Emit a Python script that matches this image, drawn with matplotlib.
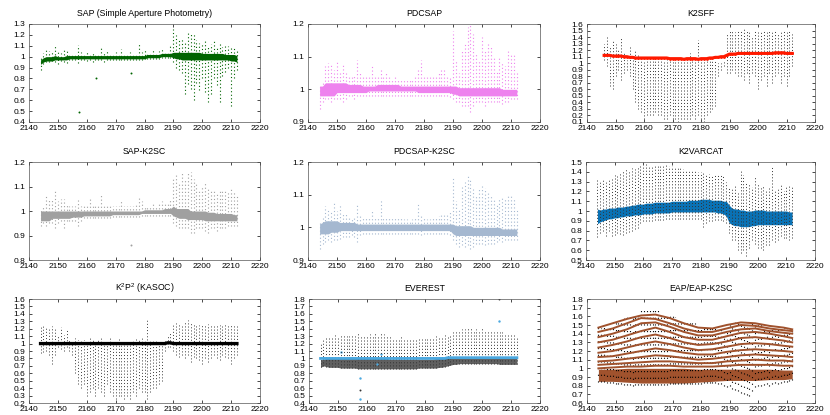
''' K2 light curves: nine reductions of the same target '''
import numpy as np
import matplotlib
matplotlib.use('Agg')
import matplotlib.pyplot as plt
from matplotlib.ticker import FuncFormatter

plt.rcParams['font.family'] = ['Liberation Sans', 'DejaVu Sans']
plt.rcParams['mathtext.default'] = 'regular'

days = list(range(2144, 2213))
k2sff_days = days[2:]

# SAP
sap_lo = [0.93, 0.95, 0.96, 0.96, 0.96, 0.97, 0.97, 0.97, 0.97, 0.97,
          0.98, 0.98, 0.98, 0.98, 0.98, 0.98, 0.98, 0.98, 0.98, 0.98,
          0.98, 0.98, 0.98, 0.98, 0.98, 0.98, 0.98, 0.98, 0.98, 0.98,
          0.98, 0.98, 0.98, 0.98, 0.98, 0.98, 0.98, 0.99, 0.99, 0.99,
          0.99, 0.99, 1.00, 1.00, 1.00, 1.00, 0.99, 0.98, 0.98, 0.97,
          0.97, 0.97, 0.97, 0.97, 0.97, 0.97, 0.97, 0.97, 0.97, 0.97,
          0.97, 0.97, 0.97, 0.97, 0.97, 0.97, 0.96, 0.96, 0.95]
sap_hi = [0.97, 0.99, 1.00, 1.00, 1.00, 1.01, 1.00, 1.00, 1.00, 1.01,
          1.01, 1.01, 1.01, 1.01, 1.01, 1.01, 1.01, 1.01, 1.01, 1.01,
          1.01, 1.01, 1.01, 1.01, 1.01, 1.01, 1.01, 1.01, 1.01, 1.01,
          1.01, 1.01, 1.01, 1.01, 1.01, 1.01, 1.01, 1.02, 1.02, 1.02,
          1.02, 1.02, 1.03, 1.03, 1.03, 1.03, 1.04, 1.04, 1.04, 1.04,
          1.04, 1.04, 1.04, 1.04, 1.04, 1.04, 1.03, 1.03, 1.03, 1.03,
          1.03, 1.03, 1.03, 1.03, 1.02, 1.02, 1.02, 1.02, 1.01]
sap_min = [0.88, 0.93, 0.95, 0.95, 0.96, 0.95, 0.93, 0.96, 0.95, 0.94,
           0.97, 0.97, 0.97, 0.94, 0.97, 0.97, 0.96, 0.97, 0.95, 0.97,
           0.97, 0.97, 0.95, 0.97, 0.97, 0.97, 0.97, 0.97, 0.97, 0.97,
           0.97, 0.97, 0.97, 0.97, 0.97, 0.97, 0.98, 0.98, 0.98, 0.98,
           0.98, 0.98, 0.99, 0.99, 0.99, 0.99, 0.95, 0.90, 0.88, 0.85,
           0.66, 0.75, 0.70, 0.60, 0.76, 0.69, 0.80, 0.68, 0.58, 0.66,
           0.80, 0.74, 0.58, 0.82, 0.86, 0.90, 0.55, 0.80, 0.88]
sap_max = [0.99, 1.03, 1.06, 1.05, 1.04, 1.11, 1.06, 1.03, 1.07, 1.05,
           1.03, 1.03, 1.03, 1.11, 1.04, 1.03, 1.05, 1.03, 1.04, 1.03,
           1.03, 1.08, 1.04, 1.05, 1.03, 1.03, 1.04, 1.03, 1.07, 1.03,
           1.03, 1.04, 1.03, 1.03, 1.13, 1.04, 1.06, 1.04, 1.04, 1.06,
           1.04, 1.05, 1.07, 1.05, 1.05, 1.10, 1.25, 1.20, 1.15, 1.17,
           1.14, 1.23, 1.22, 1.21, 1.15, 1.13, 1.12, 1.14, 1.10, 1.12,
           1.14, 1.10, 1.12, 1.09, 1.11, 1.10, 1.08, 1.09, 1.07]
sap_out_t = [2157.3, 2163.2, 2175.3]
sap_out_y = [0.49, 0.80, 0.85]

# PDCSAP
pdc_lo = [0.98, 0.98, 0.98, 0.98, 0.98, 0.98, 0.99, 0.99, 0.99, 0.99,
          0.99, 0.99, 0.99, 0.99, 0.99, 0.99, 0.99, 0.995, 0.995, 0.995,
          0.995, 0.995, 0.995, 0.995, 0.995, 0.995, 0.995, 0.995, 0.995, 0.995,
          0.995, 0.995, 0.995, 0.995, 0.99, 0.99, 0.99, 0.99, 0.99, 0.99,
          0.99, 0.99, 0.99, 0.99, 0.99, 0.99, 0.985, 0.985, 0.98, 0.98,
          0.98, 0.98, 0.98, 0.98, 0.98, 0.98, 0.98, 0.98, 0.98, 0.98,
          0.98, 0.98, 0.98, 0.98, 0.98, 0.98, 0.98, 0.98, 0.98]
pdc_hi = [1.01, 1.01, 1.02, 1.02, 1.02, 1.02, 1.02, 1.02, 1.02, 1.02,
          1.015, 1.015, 1.015, 1.015, 1.015, 1.01, 1.01, 1.01, 1.01, 1.01,
          1.015, 1.015, 1.015, 1.015, 1.015, 1.015, 1.015, 1.015, 1.01, 1.01,
          1.01, 1.01, 1.01, 1.01, 1.01, 1.01, 1.01, 1.01, 1.01, 1.01,
          1.01, 1.01, 1.01, 1.01, 1.01, 1.01, 1.01, 1.01, 1.005, 1.005,
          1.005, 1.005, 1.005, 1.005, 1.005, 1.005, 1.005, 1.005, 1.005, 1.005,
          1.005, 1.005, 1.005, 1.0, 1.0, 1.0, 1.0, 1.0, 1.0]
pdc_min = [0.94, 0.96, 0.97, 0.97, 0.96, 0.97, 0.97, 0.97, 0.96, 0.97,
           0.98, 0.98, 0.97, 0.98, 0.98, 0.98, 0.98, 0.98, 0.98, 0.98,
           0.98, 0.98, 0.98, 0.98, 0.98, 0.98, 0.98, 0.98, 0.98, 0.98,
           0.98, 0.98, 0.98, 0.98, 0.98, 0.98, 0.98, 0.98, 0.98, 0.98,
           0.98, 0.98, 0.98, 0.98, 0.98, 0.975, 0.97, 0.96, 0.96, 0.95,
           0.95, 0.95, 0.93, 0.95, 0.96, 0.96, 0.96, 0.95, 0.96, 0.96,
           0.96, 0.96, 0.96, 0.955, 0.96, 0.96, 0.97, 0.97, 0.97]
pdc_max = [1.01, 1.02, 1.07, 1.08, 1.08, 1.06, 1.09, 1.05, 1.08, 1.05,
           1.04, 1.04, 1.04, 1.09, 1.05, 1.04, 1.04, 1.04, 1.07, 1.04,
           1.04, 1.06, 1.04, 1.05, 1.04, 1.03, 1.04, 1.03, 1.03, 1.03,
           1.03, 1.03, 1.03, 1.04, 1.06, 1.09, 1.04, 1.04, 1.04, 1.04,
           1.04, 1.05, 1.06, 1.06, 1.04, 1.04, 1.18, 1.09, 1.05, 1.12,
           1.14, 1.19, 1.20, 1.17, 1.11, 1.09, 1.16, 1.12, 1.14, 1.13,
           1.10, 1.06, 1.10, 1.08, 1.07, 1.12, 1.11, 1.11, 1.05]

# K2SFF (starts 2146)
k2sff_red = [1.12, 1.12, 1.12, 1.11, 1.11, 1.11, 1.11, 1.10,
             1.10, 1.09, 1.09, 1.08, 1.08, 1.08, 1.08, 1.08, 1.08, 1.08,
             1.08, 1.08, 1.08, 1.08, 1.08, 1.07, 1.07, 1.07, 1.07, 1.07,
             1.06, 1.07, 1.07, 1.07, 1.07, 1.06, 1.07, 1.07, 1.07, 1.08,
             1.08, 1.09, 1.09, 1.10, 1.10, 1.12, 1.14, 1.14, 1.14, 1.15,
             1.15, 1.15, 1.15, 1.15, 1.15, 1.15, 1.15, 1.15, 1.15, 1.15,
             1.15, 1.15, 1.16, 1.16, 1.16, 1.16, 1.15, 1.15, 1.15]
k2sff_min = [1.05, 0.95, 0.65, 0.60, 0.80, 0.90, 0.75, 0.85,
             0.90, 0.80, 0.60, 0.40, 0.30, 0.25, 0.15, 0.20, 0.20, 0.20,
             0.25, 0.20, 0.20, 0.15, 0.15, 0.20, 0.10, 0.15, 0.10, 0.15,
             0.15, 0.15, 0.15, 0.20, 0.15, 0.20, 0.15, 0.10, 0.20, 0.25,
             0.30, 0.35, 0.80, 0.90, 0.95, 0.85, 0.85, 0.90, 0.85, 0.80,
             0.80, 0.75, 0.85, 0.70, 0.85, 0.80, 0.60, 0.75, 0.80, 0.65,
             0.85, 0.70, 0.80, 0.85, 0.70, 0.80, 0.65, 0.80, 0.95]
k2sff_max = [1.30, 1.40, 1.25, 1.35, 1.30, 1.20, 1.40, 1.15,
             1.05, 1.25, 1.05, 1.20, 1.15, 1.05, 1.05, 1.05, 1.10, 1.05,
             1.10, 1.10, 1.05, 1.05, 1.10, 1.05, 1.05, 1.05, 1.10, 1.05,
             1.05, 1.10, 1.15, 1.10, 1.05, 1.35, 1.10, 1.05, 1.05, 1.05,
             1.05, 1.05, 1.00, 1.00, 1.05, 1.45, 1.50, 1.50, 1.48, 1.50,
             1.50, 1.52, 1.50, 1.48, 1.42, 1.50, 1.50, 1.48, 1.50, 1.48,
             1.50, 1.48, 1.50, 1.45, 1.50, 1.50, 1.48, 1.50, 1.45]

# SAP-K2SC
ssc_lo = [0.96, 0.96, 0.96, 0.96, 0.97, 0.97, 0.97, 0.97, 0.97, 0.97,
          0.97, 0.975, 0.975, 0.975, 0.975, 0.98, 0.98, 0.98, 0.98, 0.98,
          0.98, 0.98, 0.98, 0.98, 0.98, 0.985, 0.985, 0.985, 0.985, 0.985,
          0.985, 0.985, 0.985, 0.985, 0.985, 0.99, 0.99, 0.99, 0.99, 0.99,
          0.99, 0.99, 0.99, 0.99, 0.99, 0.99, 0.98, 0.975, 0.97, 0.97,
          0.97, 0.965, 0.965, 0.965, 0.965, 0.965, 0.965, 0.96, 0.96, 0.96,
          0.96, 0.96, 0.96, 0.96, 0.96, 0.96, 0.96, 0.96, 0.96]
ssc_hi = [1.00, 1.00, 1.00, 1.00, 1.00, 1.00, 1.00, 1.00, 1.00, 1.00,
          1.00, 1.00, 1.00, 1.00, 1.00, 1.00, 1.00, 1.00, 1.00, 1.00,
          1.00, 1.00, 1.00, 1.00, 1.00, 1.00, 1.00, 1.00, 1.00, 1.00,
          1.00, 1.00, 1.00, 1.00, 1.00, 1.00, 1.005, 1.005, 1.005, 1.005,
          1.005, 1.005, 1.005, 1.01, 1.01, 1.01, 1.02, 1.01, 1.01, 1.01,
          1.01, 1.01, 1.00, 1.00, 1.00, 1.00, 1.00, 1.00, 0.995, 0.995,
          0.995, 0.99, 0.99, 0.99, 0.99, 0.99, 0.99, 0.985, 0.985]
ssc_min = [0.94, 0.95, 0.94, 0.95, 0.95, 0.93, 0.95, 0.96, 0.93, 0.96,
           0.96, 0.96, 0.96, 0.94, 0.96, 0.97, 0.97, 0.97, 0.97, 0.97,
           0.97, 0.97, 0.97, 0.97, 0.97, 0.975, 0.975, 0.975, 0.975, 0.975,
           0.975, 0.975, 0.975, 0.975, 0.975, 0.98, 0.98, 0.98, 0.98, 0.98,
           0.98, 0.98, 0.98, 0.98, 0.98, 0.98, 0.95, 0.94, 0.93, 0.93,
           0.93, 0.93, 0.91, 0.91, 0.93, 0.93, 0.93, 0.92, 0.91, 0.93,
           0.93, 0.92, 0.93, 0.93, 0.93, 0.94, 0.94, 0.94, 0.94]
ssc_max = [1.01, 1.02, 1.06, 1.05, 1.05, 1.09, 1.04, 1.05, 1.05, 1.03,
           1.02, 1.02, 1.02, 1.05, 1.02, 1.02, 1.02, 1.05, 1.02, 1.02,
           1.02, 1.07, 1.03, 1.03, 1.02, 1.02, 1.02, 1.02, 1.04, 1.02,
           1.02, 1.02, 1.02, 1.03, 1.06, 1.04, 1.02, 1.02, 1.02, 1.03,
           1.02, 1.03, 1.04, 1.03, 1.03, 1.05, 1.14, 1.15, 1.12, 1.16,
           1.13, 1.16, 1.16, 1.13, 1.12, 1.08, 1.10, 1.12, 1.10, 1.09,
           1.09, 1.07, 1.08, 1.09, 1.09, 1.08, 1.09, 1.08, 1.06]
ssc_out_t = [2175.3]
ssc_out_y = [0.86]

# PDCSAP-K2SC
psc_lo = [0.98, 0.98, 0.98, 0.98, 0.985, 0.985, 0.985, 0.99, 0.99, 0.99,
          0.99, 0.99, 0.99, 0.99, 0.99, 0.99, 0.99, 0.99, 0.99, 0.99,
          0.99, 0.99, 0.99, 0.99, 0.99, 0.99, 0.99, 0.99, 0.99, 0.99,
          0.99, 0.99, 0.99, 0.99, 0.99, 0.99, 0.99, 0.99, 0.99, 0.99,
          0.99, 0.99, 0.99, 0.99, 0.99, 0.99, 0.98, 0.975, 0.975, 0.975,
          0.975, 0.975, 0.975, 0.975, 0.975, 0.975, 0.975, 0.975, 0.975, 0.975,
          0.975, 0.975, 0.975, 0.975, 0.975, 0.975, 0.975, 0.975, 0.975]
psc_hi = [1.01, 1.015, 1.02, 1.02, 1.02, 1.02, 1.02, 1.015, 1.015, 1.015,
          1.015, 1.015, 1.015, 1.01, 1.01, 1.01, 1.01, 1.01, 1.01, 1.01,
          1.01, 1.01, 1.01, 1.01, 1.01, 1.01, 1.01, 1.01, 1.01, 1.01,
          1.01, 1.01, 1.01, 1.01, 1.01, 1.01, 1.01, 1.01, 1.01, 1.01,
          1.01, 1.01, 1.01, 1.01, 1.01, 1.01, 1.01, 1.005, 1.005, 1.005,
          1.005, 1.005, 1.005, 1.0, 1.0, 1.0, 1.0, 1.0, 1.0, 1.0,
          1.0, 1.0, 1.0, 0.995, 0.995, 0.995, 0.995, 0.995, 0.995]
psc_min = [0.935, 0.95, 0.955, 0.96, 0.955, 0.96, 0.96, 0.965, 0.97, 0.97,
           0.97, 0.975, 0.97, 0.955, 0.975, 0.98, 0.98, 0.98, 0.98, 0.98,
           0.98, 0.98, 0.98, 0.98, 0.98, 0.98, 0.98, 0.98, 0.98, 0.98,
           0.98, 0.98, 0.98, 0.98, 0.98, 0.975, 0.98, 0.98, 0.98, 0.98,
           0.98, 0.98, 0.98, 0.98, 0.98, 0.975, 0.96, 0.95, 0.94, 0.945,
           0.94, 0.945, 0.935, 0.94, 0.95, 0.95, 0.95, 0.945, 0.95, 0.95,
           0.95, 0.955, 0.96, 0.955, 0.96, 0.96, 0.96, 0.96, 0.96]
psc_max = [1.02, 1.03, 1.065, 1.06, 1.05, 1.075, 1.05, 1.07, 1.04, 1.04,
           1.03, 1.03, 1.03, 1.075, 1.04, 1.03, 1.03, 1.03, 1.05, 1.03,
           1.03, 1.085, 1.03, 1.03, 1.03, 1.03, 1.03, 1.03, 1.03, 1.025,
           1.025, 1.02, 1.025, 1.03, 1.07, 1.04, 1.03, 1.025, 1.025, 1.03,
           1.03, 1.035, 1.04, 1.045, 1.04, 1.05, 1.155, 1.08, 1.06, 1.13,
           1.14, 1.16, 1.15, 1.12, 1.10, 1.12, 1.13, 1.12, 1.11, 1.10,
           1.09, 1.07, 1.09, 1.09, 1.09, 1.10, 1.10, 1.09, 1.06]

# K2VARCAT
vc_lo = [0.87, 0.89, 0.90, 0.91, 0.92, 0.92, 0.93, 0.93, 0.94, 0.94,
         0.95, 0.95, 0.95, 0.96, 0.96, 0.96, 0.97, 0.97, 0.97, 0.97,
         0.98, 0.98, 0.98, 0.98, 0.98, 0.98, 0.99, 0.99, 0.99, 0.99,
         0.99, 0.99, 0.99, 0.99, 0.99, 0.99, 0.99, 0.99, 0.99, 0.99,
         0.99, 0.99, 0.98, 0.98, 0.97, 0.95, 0.88, 0.86, 0.85, 0.85,
         0.84, 0.84, 0.84, 0.84, 0.85, 0.85, 0.86, 0.86, 0.86, 0.86,
         0.86, 0.86, 0.86, 0.86, 0.86, 0.86, 0.86, 0.86, 0.86]
vc_hi = [1.02, 1.01, 1.02, 1.02, 1.03, 1.03, 1.03, 1.04, 1.04, 1.04,
         1.05, 1.05, 1.06, 1.06, 1.07, 1.07, 1.07, 1.08, 1.08, 1.08,
         1.09, 1.09, 1.09, 1.09, 1.09, 1.09, 1.10, 1.10, 1.10, 1.10,
         1.10, 1.10, 1.11, 1.11, 1.11, 1.11, 1.12, 1.12, 1.12, 1.12,
         1.11, 1.11, 1.11, 1.11, 1.10, 1.10, 1.06, 1.03, 1.02, 1.02,
         1.01, 1.01, 1.00, 1.00, 1.00, 1.01, 1.01, 1.01, 1.01, 1.00,
         1.00, 1.00, 1.00, 1.00, 1.00, 1.00, 1.00, 0.99, 0.99]
vc_min = [0.73, 0.78, 0.80, 0.74, 0.80, 0.74, 0.76, 0.78, 0.77, 0.76,
          0.78, 0.79, 0.80, 0.82, 0.83, 0.88, 0.90, 0.90, 0.90, 0.90,
          0.91, 0.91, 0.91, 0.91, 0.92, 0.92, 0.92, 0.92, 0.92, 0.92,
          0.92, 0.92, 0.92, 0.92, 0.92, 0.92, 0.92, 0.84, 0.88, 0.90,
          0.90, 0.91, 0.91, 0.91, 0.90, 0.88, 0.78, 0.70, 0.70, 0.60,
          0.57, 0.60, 0.54, 0.62, 0.70, 0.66, 0.62, 0.62, 0.60, 0.65,
          0.65, 0.70, 0.68, 0.70, 0.75, 0.72, 0.72, 0.70, 0.72]
vc_max = [1.33, 1.30, 1.32, 1.30, 1.32, 1.35, 1.37, 1.38, 1.40, 1.42,
          1.43, 1.42, 1.44, 1.43, 1.45, 1.46, 1.47, 1.48, 1.47, 1.47,
          1.47, 1.48, 1.48, 1.48, 1.47, 1.46, 1.46, 1.45, 1.45, 1.44,
          1.43, 1.42, 1.42, 1.41, 1.42, 1.40, 1.40, 1.39, 1.38, 1.38,
          1.37, 1.37, 1.38, 1.37, 1.36, 1.30, 1.25, 1.22, 1.28, 1.20,
          1.42, 1.37, 1.30, 1.28, 1.25, 1.35, 1.28, 1.25, 1.27, 1.22,
          1.26, 1.46, 1.20, 1.22, 1.28, 1.20, 1.24, 1.28, 1.25]

# K2P2 (KASOC)
kp_line = [1.00, 1.00, 1.00, 1.00, 1.00, 1.00, 1.00, 1.00, 1.00, 1.00,
           1.00, 1.00, 1.00, 1.00, 1.00, 1.00, 1.00, 1.00, 1.00, 1.00,
           1.00, 1.00, 1.00, 1.00, 1.00, 1.00, 1.00, 1.00, 1.00, 1.00,
           1.00, 1.00, 1.00, 1.00, 1.00, 1.00, 1.00, 1.00, 1.00, 1.00,
           1.00, 1.00, 1.00, 1.00, 1.01, 1.01, 1.00, 1.00, 1.00, 1.00,
           1.00, 1.00, 1.00, 1.00, 1.00, 1.00, 1.00, 1.00, 1.00, 1.00,
           1.00, 1.00, 1.00, 1.00, 1.00, 1.00, 1.00, 1.00, 1.00]
kp_min = [0.87, 0.88, 0.90, 0.85, 0.72, 0.85, 0.95, 0.93, 0.90, 0.95,
          0.90, 0.85, 0.60, 0.45, 0.40, 0.45, 0.30, 0.35, 0.40, 0.30,
          0.40, 0.35, 0.30, 0.45, 0.35, 0.30, 0.25, 0.30, 0.30, 0.25,
          0.30, 0.25, 0.35, 0.30, 0.40, 0.35, 0.35, 0.25, 0.35, 0.40,
          0.40, 0.45, 0.50, 0.90, 0.95, 0.95, 0.90, 0.85, 0.82, 0.85,
          0.80, 0.85, 0.75, 0.82, 0.80, 0.78, 0.72, 0.80, 0.75, 0.80,
          0.85, 0.80, 0.78, 0.85, 0.82, 0.80, 0.72, 0.80, 0.85]
kp_max = [1.22, 1.24, 1.22, 1.20, 1.23, 1.20, 1.10, 1.22, 1.12, 1.18,
          1.05, 1.05, 1.08, 1.05, 1.04, 1.05, 1.05, 1.08, 1.05, 1.05,
          1.05, 1.08, 1.05, 1.04, 1.07, 1.05, 1.04, 1.06, 1.05, 1.05,
          1.05, 1.04, 1.05, 1.06, 1.05, 1.10, 1.05, 1.33, 1.05, 1.03,
          1.04, 1.03, 1.02, 1.03, 1.10, 1.15, 1.27, 1.28, 1.28, 1.27,
          1.30, 1.32, 1.28, 1.27, 1.26, 1.25, 1.27, 1.27, 1.26, 1.27,
          1.27, 1.26, 1.25, 1.27, 1.26, 1.27, 1.26, 1.27, 1.26]

# EVEREST
ev_blue = [1.00, 1.00, 1.00, 1.00, 1.00, 1.00, 1.00, 1.00, 1.00, 1.00,
           1.00, 1.00, 1.00, 1.00, 1.00, 1.00, 1.00, 1.00, 1.00, 1.00,
           1.00, 1.00, 1.00, 1.00, 1.00, 1.00, 1.00, 1.00, 1.00, 1.00,
           1.00, 1.00, 1.00, 1.00, 1.00, 1.00, 1.00, 1.00, 1.00, 1.00,
           1.00, 1.00, 1.00, 1.00, 1.01, 1.01, 1.01, 1.01, 1.01, 1.01,
           1.01, 1.01, 1.01, 1.01, 1.01, 1.01, 1.01, 1.01, 1.01, 1.01,
           1.01, 1.01, 1.01, 1.01, 1.01, 1.01, 1.01, 1.01, 1.01]
ev_lo = [0.88, 0.90, 0.89, 0.88, 0.88, 0.88, 0.88, 0.87, 0.87, 0.87,
         0.87, 0.87, 0.87, 0.86, 0.86, 0.86, 0.86, 0.86, 0.86, 0.86,
         0.86, 0.86, 0.86, 0.86, 0.86, 0.86, 0.86, 0.86, 0.86, 0.86,
         0.86, 0.86, 0.86, 0.86, 0.87, 0.87, 0.87, 0.87, 0.87, 0.87,
         0.87, 0.88, 0.88, 0.89, 0.90, 0.91, 0.92, 0.92, 0.93, 0.93,
         0.93, 0.93, 0.93, 0.93, 0.93, 0.93, 0.93, 0.93, 0.93, 0.93,
         0.93, 0.93, 0.92, 0.92, 0.92, 0.92, 0.92, 0.92, 0.92]
ev_mid = [0.98, 0.99, 1.00, 1.00, 1.00, 1.00, 1.00, 1.00, 1.00, 1.00,
          1.00, 1.00, 1.00, 1.00, 1.00, 1.00, 1.00, 1.00, 1.00, 1.00,
          1.00, 1.00, 1.00, 1.00, 0.99, 0.99, 0.99, 0.99, 0.99, 0.99,
          0.99, 0.99, 0.99, 0.99, 0.99, 0.99, 0.99, 0.99, 0.99, 0.99,
          1.00, 1.00, 1.00, 1.00, 1.00, 1.00, 1.01, 1.01, 1.01, 1.02,
          1.02, 1.02, 1.02, 1.02, 1.02, 1.02, 1.02, 1.02, 1.02, 1.02,
          1.02, 1.02, 1.02, 1.02, 1.02, 1.02, 1.01, 1.01, 1.01]
ev_max = [1.20, 1.25, 1.27, 1.30, 1.30, 1.32, 1.30, 1.31, 1.32, 1.30,
          1.30, 1.32, 1.30, 1.35, 1.30, 1.32, 1.31, 1.33, 1.30, 1.36,
          1.32, 1.36, 1.33, 1.32, 1.30, 1.28, 1.28, 1.28, 1.30, 1.27,
          1.28, 1.27, 1.27, 1.26, 1.26, 1.26, 1.27, 1.26, 1.28, 1.29,
          1.30, 1.30, 1.30, 1.31, 1.32, 1.33, 1.35, 1.37, 1.38, 1.40,
          1.40, 1.42, 1.41, 1.38, 1.40, 1.38, 1.41, 1.38, 1.38, 1.37,
          1.36, 1.38, 1.35, 1.35, 1.33, 1.33, 1.32, 1.32, 1.30]
ev_out_t = [2157.8, 2205.8]
ev_out_y = [0.57, 1.80]
ev_blue_out_t = [2157.8, 2157.8, 2205.8, 2151.0, 2163.5, 2165.0]
ev_blue_out_y = [0.74, 0.46, 1.50, 1.08, 0.93, 1.06]

# EAP / EAP-K2SC
eap_days = [2144, 2149, 2154, 2159, 2164, 2169, 2174, 2179,
            2184, 2189, 2194, 2199, 2204, 2209, 2212]
eap_tracks = [
    [1.47, 1.52, 1.57, 1.61, 1.62, 1.58, 1.52, 1.47, 1.46, 1.50, 1.53, 1.52, 1.49, 1.47, 1.45],
    [1.42, 1.46, 1.52, 1.58, 1.57, 1.52, 1.46, 1.42, 1.42, 1.46, 1.50, 1.49, 1.46, 1.44, 1.43],
    [1.36, 1.40, 1.45, 1.52, 1.53, 1.48, 1.42, 1.38, 1.38, 1.42, 1.45, 1.46, 1.43, 1.41, 1.40],
    [1.30, 1.33, 1.38, 1.43, 1.47, 1.42, 1.36, 1.33, 1.33, 1.37, 1.41, 1.42, 1.40, 1.37, 1.35],
    [1.24, 1.27, 1.31, 1.36, 1.39, 1.35, 1.30, 1.27, 1.28, 1.31, 1.35, 1.36, 1.34, 1.32, 1.30],
    [1.18, 1.20, 1.24, 1.28, 1.31, 1.28, 1.24, 1.21, 1.22, 1.25, 1.28, 1.29, 1.28, 1.26, 1.25],
    [1.13, 1.14, 1.17, 1.20, 1.23, 1.21, 1.18, 1.16, 1.16, 1.19, 1.21, 1.22, 1.21, 1.20, 1.19],
    [1.08, 1.09, 1.11, 1.13, 1.15, 1.14, 1.12, 1.10, 1.11, 1.13, 1.15, 1.16, 1.15, 1.14, 1.13],
    [1.04, 1.05, 1.06, 1.07, 1.08, 1.08, 1.07, 1.06, 1.06, 1.08, 1.09, 1.10, 1.09, 1.09, 1.08],
    [1.00, 1.01, 1.02, 1.02, 1.03, 1.03, 1.02, 1.02, 1.02, 1.03, 1.04, 1.04, 1.04, 1.03, 1.03],
]
eap_lo = [0.85, 0.85, 0.84, 0.83, 0.83, 0.83, 0.83, 0.84, 0.85, 0.86, 0.86, 0.86, 0.87, 0.87, 0.88]
eap_hi = [0.99, 0.99, 1.00, 1.00, 1.00, 1.00, 1.00, 0.99, 0.99, 0.99, 0.99, 0.99, 0.99, 0.98, 0.98]
eap_min = [0.84, 0.84, 0.84, 0.83, 0.83, 0.83, 0.82, 0.82, 0.82, 0.81,
           0.81, 0.81, 0.80, 0.81, 0.81, 0.81, 0.81, 0.81, 0.81, 0.81,
           0.81, 0.81, 0.81, 0.81, 0.81, 0.82, 0.82, 0.82, 0.82, 0.82,
           0.82, 0.82, 0.82, 0.82, 0.82, 0.82, 0.82, 0.83, 0.83, 0.83,
           0.83, 0.83, 0.82, 0.82, 0.80, 0.78, 0.80, 0.76, 0.75, 0.74,
           0.72, 0.70, 0.69, 0.68, 0.74, 0.78, 0.80, 0.80, 0.81, 0.82,
           0.80, 0.82, 0.83, 0.82, 0.83, 0.84, 0.84, 0.85, 0.86]
eap_max = [1.48, 1.47, 1.48, 1.50, 1.52, 1.53, 1.55, 1.57, 1.57, 1.58,
           1.60, 1.60, 1.62, 1.62, 1.64, 1.67, 1.70, 1.71, 1.70, 1.68,
           1.67, 1.68, 1.65, 1.63, 1.62, 1.60, 1.60, 1.59, 1.58, 1.57,
           1.56, 1.55, 1.54, 1.54, 1.52, 1.50, 1.50, 1.49, 1.48, 1.48,
           1.50, 1.49, 1.47, 1.46, 1.46, 1.48, 1.50, 1.52, 1.53, 1.54,
           1.54, 1.53, 1.53, 1.52, 1.52, 1.52, 1.51, 1.51, 1.50, 1.50,
           1.49, 1.48, 1.48, 1.47, 1.47, 1.46, 1.46, 1.45, 1.45]

W, H = 830, 415
DOTS = (0, (1.0, 2.2))


def add_panel(fig, box, title, ylim, ystep):
    '''box is (left, right, top, bottom) in pixels'''
    left, right, top, bottom = box
    ax = fig.add_axes([left / W, 1 - bottom / H, (right - left) / W, (bottom - top) / H])
    ax.set_xlim(2140, 2220)
    ax.set_xticks(range(2140, 2221, 10))
    ax.set_ylim(*ylim)
    ax.set_yticks(np.arange(ylim[0], ylim[1] + ystep / 2, ystep))
    ax.yaxis.set_major_formatter(FuncFormatter(lambda v, p: f'{round(v, 2):g}'))
    ax.tick_params(direction='in', top=True, right=True, length=2.5, width=0.5,
                   labelsize=6, pad=2.5, colors='black')
    for spine in ax.spines.values():
        spine.set_linewidth(0.5)
        spine.set_color('#555555')
    ax.set_title(title, fontsize=6.3, pad=6)
    return ax


def scatter_panel(ax, lo, hi, smin, smax, color):
    ax.vlines(days, smin, smax, colors=color, linewidth=0.8, linestyles=DOTS)
    ax.fill_between(days, lo, hi, color=color, linewidth=0)


fig = plt.figure(figsize=(W / 100, H / 100), dpi=100)

ax = add_panel(fig, (29, 260, 24, 122), 'SAP (Simple Aperture Photometry)', (0.4, 1.3), 0.1)
scatter_panel(ax, sap_lo, sap_hi, sap_min, sap_max, '#006400')
ax.scatter(sap_out_t, sap_out_y, s=2, color='#006400', linewidths=0)

ax = add_panel(fig, (308, 540, 24, 122), 'PDCSAP', (0.9, 1.2), 0.1)
scatter_panel(ax, pdc_lo, pdc_hi, pdc_min, pdc_max, '#ee82ee')

ax = add_panel(fig, (587, 815, 24, 122), 'K2SFF', (0.1, 1.6), 0.1)
ax.vlines(k2sff_days, k2sff_min, k2sff_max, colors='#333333', linewidth=0.7, linestyles=DOTS)
ax.plot(k2sff_days, k2sff_red, color='#ff1a00', linewidth=2.2, marker='.', markersize=2)

ax = add_panel(fig, (29, 260, 162, 260), 'SAP-K2SC', (0.8, 1.2), 0.1)
scatter_panel(ax, ssc_lo, ssc_hi, ssc_min, ssc_max, '#a0a0a0')
ax.scatter(ssc_out_t, ssc_out_y, s=2, color='#a0a0a0', linewidths=0)

ax = add_panel(fig, (308, 540, 162, 260), 'PDCSAP-K2SC', (0.9, 1.2), 0.1)
scatter_panel(ax, psc_lo, psc_hi, psc_min, psc_max, '#a5b8d0')

ax = add_panel(fig, (586, 815, 162, 260), 'K2VARCAT', (0.5, 1.5), 0.1)
ax.vlines(days, vc_min, vc_max, colors='#333333', linewidth=0.7, linestyles=DOTS)
ax.fill_between(days, vc_lo, vc_hi, color='#0a72b5', linewidth=0)

ax = add_panel(fig, (29, 260, 299, 403), 'K$^2$P$^2$ (KASOC)', (0.2, 1.6), 0.1)
ax.vlines(days, kp_min, kp_max, colors='#3a3a3a', linewidth=0.7, linestyles=DOTS)
ax.plot(days, kp_line, color='black', linewidth=2.4)

ax = add_panel(fig, (309, 540, 299, 403), 'EVEREST', (0.4, 1.8), 0.1)
ax.vlines(days, ev_lo, ev_max, colors='#333333', linewidth=0.7, linestyles=DOTS)
ax.fill_between(days, ev_lo, ev_mid, color='#444444', linewidth=0, alpha=0.85)
ax.scatter(ev_out_t, ev_out_y, s=2, color='#333333', linewidths=0)
ax.plot(days, ev_blue, color='#4aa8e0', linewidth=2.0)
ax.scatter(ev_blue_out_t, ev_blue_out_y, s=3, color='#4aa8e0', linewidths=0)

ax = add_panel(fig, (587, 815, 299, 403), 'EAP/EAP-K2SC', (0.6, 1.8), 0.1)
ax.vlines(days, eap_min, eap_max, colors='black', linewidth=0.8, linestyles=(0, (1.0, 5.0)))
ax.fill_between(eap_days, eap_lo, eap_hi, color='#a0522d', linewidth=0)
for track in eap_tracks:
    ax.plot(eap_days, track, color='#a0522d', linewidth=1.4)

fig.savefig('out.png', dpi=100)
